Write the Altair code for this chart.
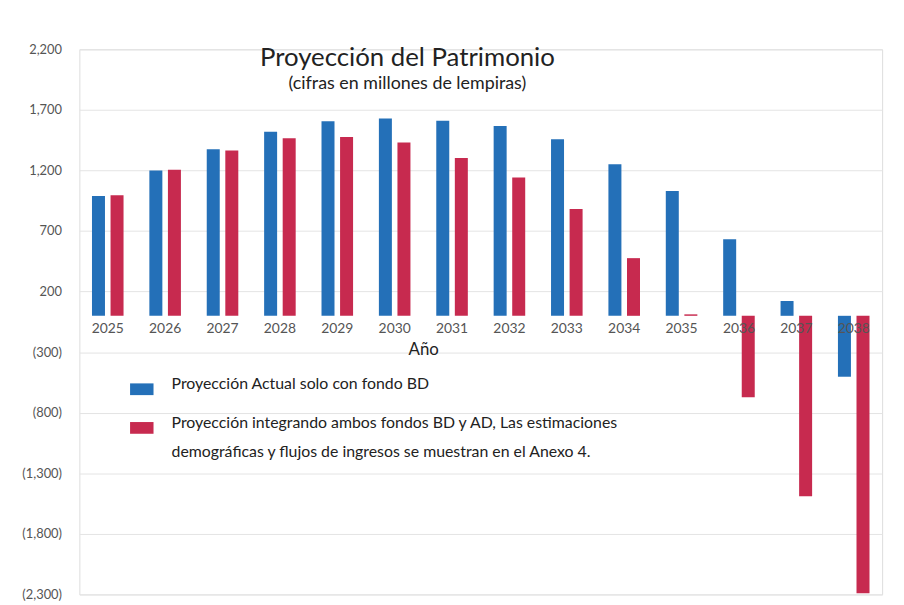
import altair as alt
import pandas as pd

years = [str(y) for y in range(2025, 2039)]
serie_bd = [990, 1200, 1375, 1520, 1607, 1628, 1610, 1566, 1457, 1252, 1030, 633, 122, -503]
serie_ambos = [995, 1205, 1365, 1465, 1476, 1430, 1303, 1142, 882, 476, 12, -673, -1490, -2290]
series_names = [
    "Proyección Actual solo con fondo BD",
    "Proyección integrando ambos fondos BD y AD, Las estimaciones|demográficas y flujos de ingresos se muestran en el Anexo 4.",
]
y_ticks = [2200, 1700, 1200, 700, 200, -300, -800, -1300, -1800, -2300]

rows = []
for i, yr in enumerate(years):
    rows.append({"Año": yr, "serie": series_names[0], "valor": serie_bd[i]})
    rows.append({"Año": yr, "serie": series_names[1], "valor": serie_ambos[i]})
df = pd.DataFrame(rows)

chart = (
    alt.Chart(df)
    .mark_bar()
    .encode(
        x=alt.X(
            "Año:N",
            sort=years,
            scale=alt.Scale(paddingInner=0.45, paddingOuter=0.22),
            axis=alt.Axis(
                offset=-281,
                zindex=1,
                domain=False,
                ticks=False,
                labelAngle=0,
                labelFont="Lato",
                labelFontSize=14,
                labelColor="#555555",
                labelPadding=6,
                title="Año",
                titleFont="Lato",
                titleFontSize=17,
                titleFontWeight="normal",
                titleColor="#222222",
                titlePadding=6,
                titleX=347,
            ),
        ),
        xOffset=alt.XOffset("serie:N", sort=series_names, scale=alt.Scale(paddingInner=0.3)),
        y=alt.Y(
            "valor:Q",
            scale=alt.Scale(domain=[-2300, 2200], nice=False, zero=False),
            axis=alt.Axis(
                values=y_ticks,
                labelExpr="datum.value < 0 ? '(' + format(-datum.value, ',') + ')' : format(datum.value, ',')",
                domain=False,
                ticks=False,
                labelFont="Lato",
                labelFontSize=13,
                labelColor="#555555",
                labelPadding=18,
                grid=True,
                gridColor="#e4e4e4",
                gridWidth=1,
                title=None,
            ),
        ),
        color=alt.Color(
            "serie:N",
            sort=series_names,
            scale=alt.Scale(domain=series_names, range=["#2470b8", "#c72a4f"]),
            legend=alt.Legend(
                title=None,
                orient="none",
                legendX=51,
                legendY=331,
                direction="vertical",
                labelExpr="split(datum.label, '|')",
                labelFont="Lato",
                labelFontSize=16,
                labelColor="#222222",
                labelLimit=800,
                labelBaseline="alphabetic",
                labelOffset=18,
                symbolType="M-1,-0.5H1V0.5H-1Z",
                symbolSize=560,
                symbolStrokeWidth=0,
                rowPadding=20,
                labelOverlap=False,
            ),
        ),
    )
    .properties(
        width=810,
        height=550,
        autosize=alt.AutoSizeParams(type="none"),
        padding={"left": 72, "top": 39, "right": 14, "bottom": 8},
        title=alt.TitleParams(
            text="Proyección del Patrimonio",
            subtitle="(cifras en millones de lempiras)",
            anchor="middle",
            frame="group",
            orient="top",
            offset=-50,
            dx=-74,
            font="Lato",
            fontSize=26,
            fontWeight="normal",
            color="#222222",
            subtitleFont="Lato",
            subtitleFontSize=18,
            subtitleColor="#222222",
            subtitlePadding=4,
        ),
    )
    .configure_view(stroke=None)
    .configure(background="white", style={"guide-label": {"lineHeight": 29}})
)

chart.save("out.html", embed_options={"renderer": "svg", "actions": False})
